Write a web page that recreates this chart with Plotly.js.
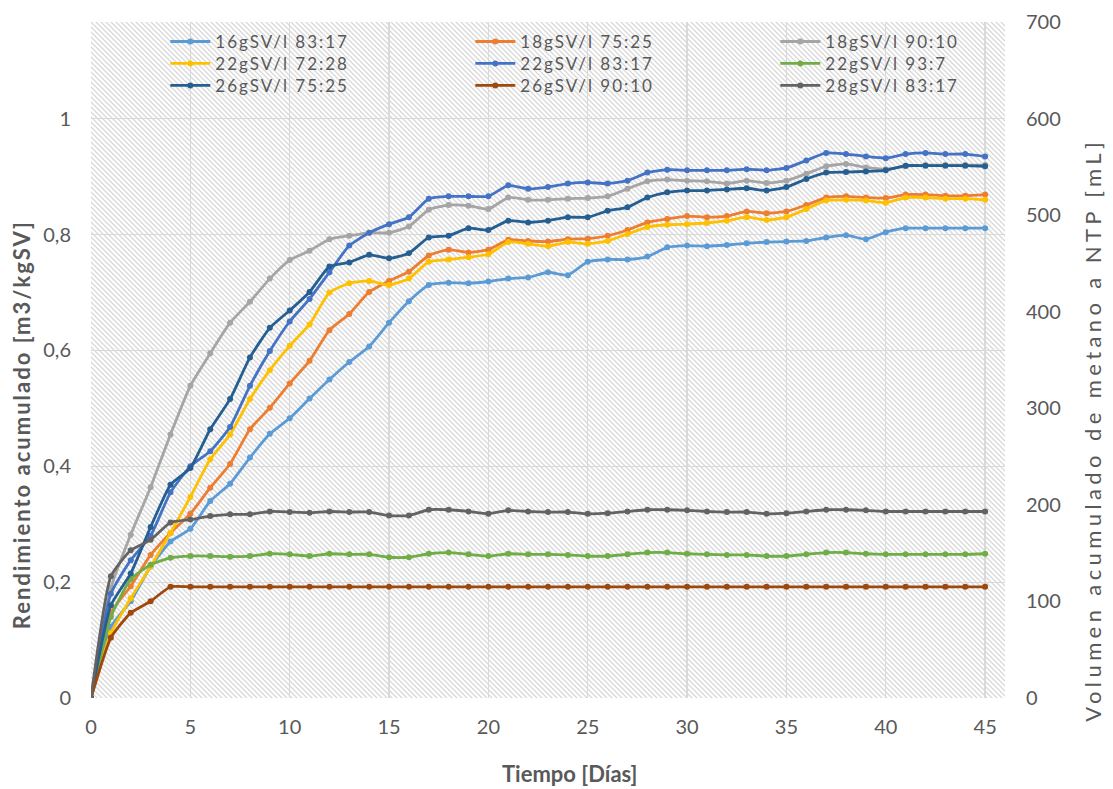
<!DOCTYPE html>
<html>
<head>
<meta charset="utf-8">
<script src="https://cdn.plot.ly/plotly-3.0.1.min.js"></script>
<style>html,body{margin:0;padding:0;background:#fff}#chart{width:1113px;height:789px}</style>
</head>
<body>
<div id="chart"></div>
<script>
// Days 0..45
const days = Array.from({length: 46}, (_, i) => i);

const seriesNames = [
  "16gSV/l 83:17", "18gSV/l 75:25", "18gSV/l 90:10",
  "22gSV/l 72:28", "22gSV/l 83:17", "22gSV/l 93:7",
  "26gSV/l 75:25", "26gSV/l 90:10", "28gSV/l 83:17"
];

const s16_8317 = [0,0.123,0.167,0.227,0.270,0.292,0.340,0.370,0.415,0.456,0.483,0.517,0.550,0.580,0.607,0.648,0.685,0.713,0.717,0.716,0.719,0.724,0.726,0.735,0.730,0.753,0.757,0.757,0.762,0.778,0.781,0.780,0.782,0.785,0.787,0.788,0.789,0.795,0.799,0.792,0.804,0.811,0.811,0.811,0.811,0.811];
const s18_7525 = [0,0.147,0.193,0.247,0.285,0.318,0.363,0.404,0.464,0.501,0.543,0.582,0.635,0.663,0.701,0.720,0.736,0.764,0.774,0.769,0.774,0.791,0.789,0.788,0.792,0.793,0.798,0.808,0.821,0.827,0.832,0.830,0.832,0.840,0.837,0.840,0.851,0.864,0.866,0.864,0.863,0.869,0.869,0.867,0.867,0.869];
const s18_9010 = [0,0.190,0.282,0.364,0.455,0.539,0.595,0.648,0.684,0.724,0.756,0.772,0.792,0.798,0.803,0.803,0.814,0.843,0.851,0.850,0.844,0.864,0.860,0.860,0.862,0.863,0.866,0.879,0.892,0.895,0.893,0.892,0.888,0.893,0.889,0.893,0.905,0.918,0.922,0.916,0.913,0.918,0.920,0.920,0.920,0.920];
const s22_7228 = [0,0.112,0.172,0.227,0.285,0.347,0.412,0.455,0.516,0.566,0.608,0.645,0.700,0.716,0.720,0.713,0.724,0.753,0.757,0.761,0.766,0.787,0.784,0.780,0.787,0.784,0.789,0.801,0.813,0.817,0.818,0.820,0.824,0.830,0.825,0.830,0.844,0.859,0.860,0.859,0.855,0.864,0.864,0.862,0.862,0.860];
const s22_8317 = [0,0.180,0.238,0.280,0.355,0.400,0.426,0.468,0.539,0.599,0.650,0.689,0.735,0.781,0.803,0.818,0.830,0.862,0.866,0.866,0.866,0.885,0.879,0.882,0.888,0.890,0.888,0.893,0.907,0.912,0.911,0.911,0.911,0.913,0.911,0.915,0.928,0.941,0.939,0.935,0.932,0.939,0.941,0.939,0.939,0.935];
const s22_937  = [0,0.140,0.205,0.230,0.242,0.245,0.245,0.244,0.245,0.249,0.248,0.245,0.249,0.248,0.248,0.243,0.243,0.249,0.251,0.248,0.245,0.249,0.248,0.248,0.247,0.245,0.245,0.248,0.251,0.251,0.249,0.248,0.247,0.247,0.245,0.245,0.248,0.251,0.251,0.249,0.248,0.248,0.248,0.248,0.248,0.249];
const s26_7525 = [0,0.160,0.215,0.295,0.368,0.397,0.464,0.516,0.588,0.639,0.669,0.701,0.745,0.752,0.765,0.759,0.768,0.795,0.798,0.811,0.808,0.824,0.821,0.824,0.830,0.830,0.841,0.847,0.864,0.873,0.876,0.876,0.878,0.880,0.876,0.882,0.896,0.907,0.908,0.909,0.911,0.919,0.919,0.919,0.919,0.918];
const s26_9010 = [0,0.104,0.147,0.167,0.192,0.192,0.192,0.192,0.192,0.192,0.192,0.192,0.192,0.192,0.192,0.192,0.192,0.192,0.192,0.192,0.192,0.192,0.192,0.192,0.192,0.192,0.192,0.192,0.192,0.192,0.192,0.192,0.192,0.192,0.192,0.192,0.192,0.192,0.192,0.192,0.192,0.192,0.192,0.192,0.192,0.192];
const s28_8317 = [0,0.210,0.255,0.273,0.303,0.308,0.314,0.317,0.317,0.322,0.321,0.320,0.322,0.321,0.321,0.315,0.315,0.325,0.325,0.322,0.318,0.324,0.322,0.321,0.321,0.318,0.319,0.322,0.325,0.325,0.324,0.322,0.321,0.321,0.318,0.319,0.322,0.325,0.325,0.324,0.322,0.322,0.322,0.322,0.322,0.322];

const seriesValues = [s16_8317, s18_7525, s18_9010, s22_7228, s22_8317, s22_937, s26_7525, s26_9010, s28_8317];
const seriesColors = ["#5B9BD5","#ED7D31","#A5A5A5","#FFC000","#4472C4","#70AD47","#255E91","#9E480E","#636363"];
// legend rows (3 entries per row)
const legendIds = ["legend","legend","legend","legend2","legend2","legend2","legend3","legend3","legend3"];

const xTickVals = [0,5,10,15,20,25,30,35,40,45];
const yTickVals = [0,0.2,0.4,0.6,0.8,1];
const y2TickVals = [0,100,200,300,400,500,600,700];

const xTitle = "Tiempo [Días]";
const yTitle = "Rendimiento acumulado [m3/kgSV]";
const y2Title = "Volumen acumulado de metano a NTP [mL]";

const FONT = "Lato, 'Open Sans', sans-serif";
const TXT = "#595959";

const traces = seriesValues.map((vals, i) => ({
  x: days, y: vals, name: "<span style='letter-spacing:2px'>" + seriesNames[i] + "</span>",
  type: "scatter", mode: "lines+markers",
  line: {color: seriesColors[i], width: 2.8, shape: "spline", smoothing: 0.5},
  marker: {color: seriesColors[i], size: 6, symbol: "circle"},
  legend: legendIds[i], xaxis: "x", yaxis: "y"
}));

// hatch background (decoration only)
const svg = "<svg xmlns='http://www.w3.org/2000/svg' width='914' height='676'>" +
  "<defs><pattern id='p' width='5' height='5' patternUnits='userSpaceOnUse'>" +
  "<path d='M0,0 L5,5 M-1,4 L1,6 M4,-1 L6,1' stroke='#d8d8d8' stroke-width='1.25' fill='none'/></pattern></defs>" +
  "<rect width='100%' height='100%' fill='#ffffff'/><rect width='100%' height='100%' fill='url(#p)'/></svg>";
const hatchSrc = "data:image/svg+xml;charset=utf-8," + encodeURIComponent(svg);

const legendCommon = {
  orientation: "h", xanchor: "left", yanchor: "middle", x: 0.0813,
  bgcolor: "rgba(0,0,0,0)", borderwidth: 0,
  font: {family: FONT, size: 17, color: TXT},
  itemwidth: 40, entrywidth: 250, entrywidthmode: "pixels"
};

const layout = {
  width: 1113, height: 789,
  margin: {l: 91, r: 108, t: 22, b: 91, pad: 0},
  paper_bgcolor: "#ffffff", plot_bgcolor: "rgba(0,0,0,0)",
  font: {family: FONT, color: TXT},
  separators: ",.",
  showlegend: true,
  legend: Object.assign({}, legendCommon, {y: 0.9705}),
  legend2: Object.assign({}, legendCommon, {y: 0.938}),
  legend3: Object.assign({}, legendCommon, {y: 0.9055}),
  xaxis: {
    range: [0, 46], tickvals: xTickVals, ticks: "",
    showgrid: true, gridcolor: "#d9d9d9", gridwidth: 1.3,
    zeroline: false, showline: false, ticklabelstandoff: 15,
    tickfont: {family: FONT, size: 20, color: TXT}
  },
  yaxis: {
    range: [0, 1.167], tickvals: yTickVals, ticks: "",
    showgrid: true, gridcolor: "#d9d9d9", gridwidth: 1.3,
    zeroline: false, showline: false, ticklabelstandoff: 19,
    tickfont: {family: FONT, size: 20, color: TXT}
  },
  yaxis2: {
    range: [0, 700], tickvals: y2TickVals, ticks: "",
    overlaying: "y", side: "right", anchor: "x",
    showgrid: false, zeroline: false, showline: false, ticklabelstandoff: 20,
    tickfont: {family: FONT, size: 20, color: TXT}
  },
  annotations: [
    {text: "<b>" + xTitle + "</b>", xref: "paper", yref: "paper", x: 0.524, y: -0.111,
     xanchor: "center", yanchor: "middle", showarrow: false,
     font: {family: FONT, size: 22, color: TXT}},
    {text: "<b><span style='letter-spacing:2px'>" + yTitle + "</span></b>", xref: "paper", yref: "paper",
     x: -0.0766, y: 0.405, xanchor: "center", yanchor: "middle", textangle: -90, showarrow: false,
     font: {family: FONT, size: 22, color: TXT}},
    {text: "<span style='letter-spacing:4.4px'>" + y2Title + "</span>", xref: "paper", yref: "paper",
     x: 1.0963, y: 0.397, xanchor: "center", yanchor: "middle", textangle: -90, showarrow: false,
     font: {family: FONT, size: 22, color: TXT}}
  ],
  images: [{source: hatchSrc, xref: "paper", yref: "paper", x: 0, y: 1, sizex: 1, sizey: 1,
            sizing: "stretch", xanchor: "left", yanchor: "top", layer: "below"}]
};

// invisible helper trace so the right axis is drawn
traces.push({x: [0], y: [null], yaxis: "y2", xaxis: "x", type: "scatter", mode: "lines",
  showlegend: false, hoverinfo: "skip"});

Plotly.newPlot("chart", traces, layout, {displayModeBar: false, staticPlot: true});
</script>
</body>
</html>
